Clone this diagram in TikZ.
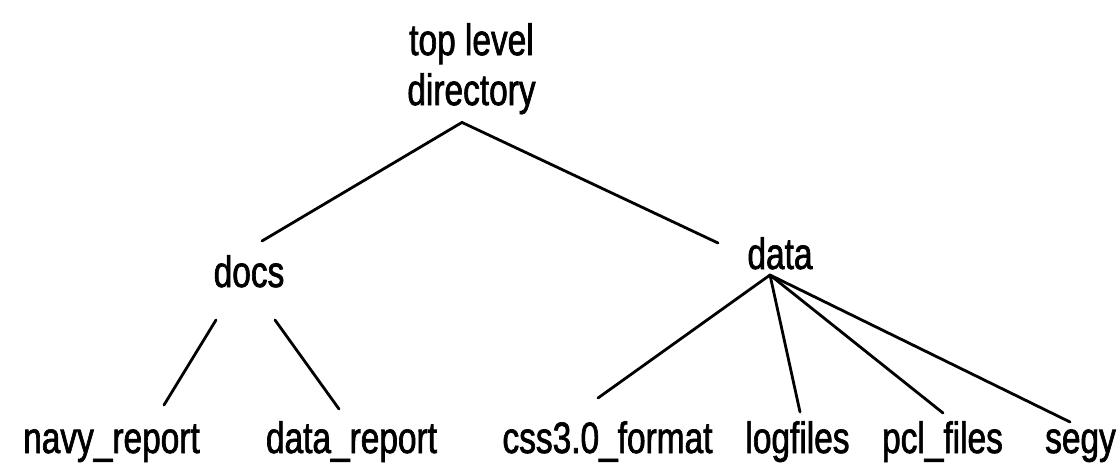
\documentclass[tikz,border=0pt]{standalone}
\usepackage{fontspec}
\setmainfont{Liberation Sans}[FakeStretch=0.76,FakeBold=1.5]
\begin{document}
\begin{tikzpicture}[x=1pt,y=-1pt,
  lbl/.style={inner sep=0pt,font=\fontsize{44}{50}\selectfont},
  edge/.style={line width=2.8pt,line cap=round,line join=round}]
\useasboundingbox (0,0) rectangle (1119,466);
% nodes
\node[lbl,align=center,anchor=north] (top) at (471.5,23) {top level\\directory};
\node[lbl,anchor=base] (docs) at (249,287) {docs};
\node[lbl,anchor=base] (data) at (780,269) {data};
\node[lbl,anchor=base] (navy) at (111.5,453) {navy\_report};
\node[lbl,anchor=base] (drep) at (351.5,453) {data\_report};
\node[lbl,anchor=base] (css) at (607.5,453) {css3.0\_format};
\node[lbl,anchor=base] (logf) at (797.5,453) {logfiles};
\node[lbl,anchor=base] (pcl) at (942.5,453) {pcl\_files};
\node[lbl,anchor=base] (segy) at (1080.5,453) {segy};
% connectors
\draw[edge] ([shift={(13,-46)}]docs.base) -- ([shift={(-9.5,8)}]top.south) -- ([shift={(-62,-26)}]data.base);
\draw[edge] ([shift={(-33,33)}]docs.base) -- ([shift={(52.5,-48)}]navy.base);
\draw[edge] ([shift={(26,33)}]docs.base) -- ([shift={(-12.5,-44)}]drep.base);
\draw[edge] ([shift={(-10,6)}]data.base) -- ([shift={(-9.5,-55)}]css.base);
\draw[edge] ([shift={(-10,6)}]data.base) -- ([shift={(2.5,-41)}]logf.base);
\draw[edge] ([shift={(-10,6)}]data.base) -- ([shift={(0.5,-40)}]pcl.base);
\draw[edge] ([shift={(-10,6)}]data.base) -- ([shift={(-10.5,-31)}]segy.base);
\end{tikzpicture}
\end{document}
